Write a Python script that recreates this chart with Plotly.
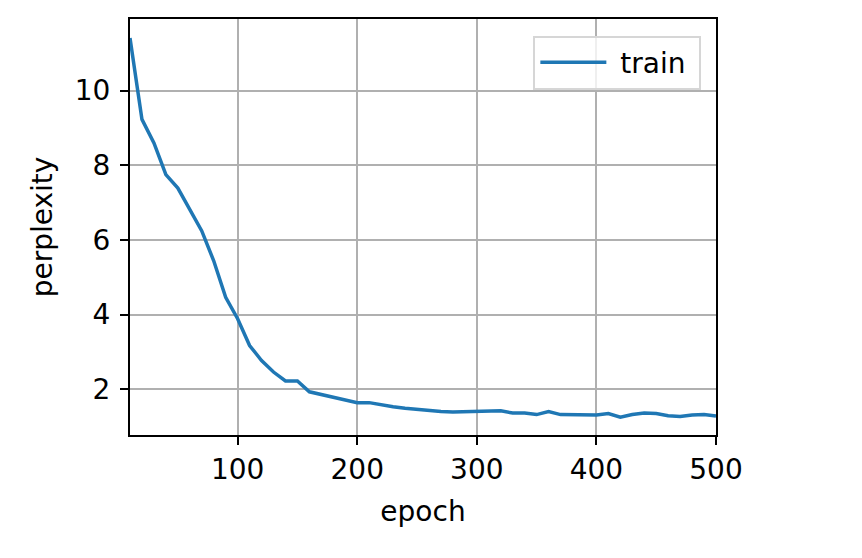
import plotly.graph_objects as go

# training perplexity, logged every 10 epochs
epochs = list(range(10, 501, 10))
perplexity = [
    11.41, 9.23, 8.60, 7.75, 7.39, 6.82, 6.24, 5.44, 4.46, 3.89,
    3.17, 2.77, 2.46, 2.22, 2.22, 1.93, 1.86, 1.79, 1.71, 1.64,
    1.64, 1.58, 1.53, 1.49, 1.46, 1.41, 1.40, 1.39, 1.40, 1.40,
    1.42, 1.42, 1.36, 1.36, 1.32, 1.40, 1.32, 1.31, 1.31, 1.31,
    1.35, 1.25, 1.32, 1.36, 1.35, 1.29, 1.27, 1.31, 1.32, 1.28,
]
x_ticks = [100, 200, 300, 400, 500]
y_ticks = [2, 4, 6, 8, 10]

FONT = "DejaVu Sans"
FSIZE = 28

fig = go.Figure()
fig.add_trace(go.Scatter(
    x=epochs,
    y=perplexity,
    mode="lines",
    name="\u00a0train\u00a0",
    line=dict(color="#1f77b4", width=3.5),
))

axis_common = dict(
    showgrid=True,
    gridcolor="#b0b0b0",
    gridwidth=2,
    showline=True,
    linecolor="black",
    linewidth=2,
    mirror=True,
    ticks="outside",
    ticklen=8,
    tickwidth=2,
    tickcolor="black",
    zeroline=False,
    tickfont=dict(family=FONT, size=FSIZE, color="black"),
)

fig.update_xaxes(
    **axis_common,
    range=[10, 500],
    tickvals=x_ticks,
    title=dict(text="epoch", font=dict(family=FONT, size=FSIZE, color="black"), standoff=17),
)
fig.update_yaxes(
    **axis_common,
    range=[0.773, 11.92],
    tickvals=y_ticks,
    ticklabelstandoff=4,
    title=dict(text="perplexity", font=dict(family=FONT, size=FSIZE, color="black"), standoff=14),
)

# page adds ~8px body margin, so shift the plot area up/left to compensate
fig.update_layout(
    width=862,
    height=558,
    margin=dict(l=122, r=154, t=9, b=131),
    paper_bgcolor="white",
    plot_bgcolor="white",
    font=dict(family=FONT, size=FSIZE, color="black"),
    showlegend=True,
    legend=dict(
        x=0.975,
        y=0.96,
        xanchor="right",
        yanchor="top",
        bgcolor="rgba(255,255,255,0.8)",
        bordercolor="#d6d6d6",
        borderwidth=2,
        font=dict(family=FONT, size=FSIZE, color="black"),
        itemwidth=66,
    ),
)

fig.write_html("out.html")
